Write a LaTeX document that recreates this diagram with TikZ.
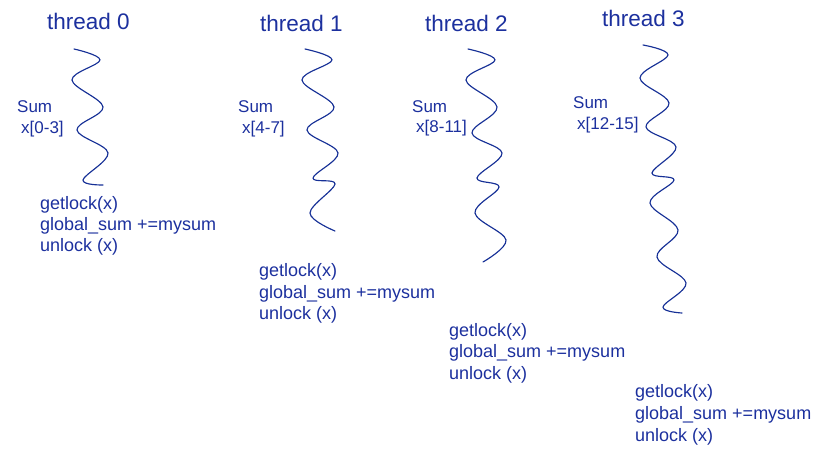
\documentclass[tikz,border=0pt]{standalone}
\usepackage{fontspec}
\setmainfont{Liberation Sans}
\definecolor{txtblue}{RGB}{28,48,158}
\definecolor{wavblue}{RGB}{22,48,150}
\tikzset{
  title/.style={anchor=base west, inner sep=0pt, text=txtblue, font=\fontsize{22.5}{26}\selectfont},
  sumlbl/.style={anchor=base west, inner sep=0pt, text=txtblue, font=\fontsize{17}{20}\selectfont},
  code/.style={anchor=base west, inner sep=0pt, text=txtblue, font=\fontsize{18}{21}\selectfont},
  wave/.style={draw=wavblue, line width=1.15pt, line cap=round, line join=round}
}
\begin{document}
\begin{tikzpicture}[x=1pt,y=-1pt]
\useasboundingbox (0,0) rectangle (817,454);
% titles
\node[title] (t0) at (47,30) {thread 0};
\node[title] (t1) at (260,32) {thread 1};
\node[title] (t2) at (425,32) {thread 2};
\node[title] (t3) at (602,27) {thread 3};
% waves
\draw[wave] plot[smooth, tension=0.6] coordinates {(74,49) (100,60) (72,80) (103,107) (77,130) (108,153) (83,180) (103,185)};
\draw[wave] plot[smooth, tension=0.6] coordinates {(305,49) (332,60) (302,80) (334,107) (307,130) (338,153) (313,178) (335,184) (310,213) (335,231)};
\draw[wave] plot[smooth, tension=0.6] coordinates {(468,49) (495,60) (466,80) (497,107) (472,133) (502,153) (477,178) (499,187) (475,213) (506,240) (483,262)};
\draw[wave] plot[smooth, tension=0.6] coordinates {(643,45) (668,55) (640,78) (669,103) (646,127) (676,147) (652,173) (674,180) (650,203) (678,230) (657,257) (686,283) (663,307) (682,313)};
% sum labels
\node[sumlbl] (s0) at (17,113) {Sum};
\node[sumlbl] (x0) at (21,134) {x[0-3]};
\node[sumlbl] (s1) at (238,113) {Sum};
\node[sumlbl] (x1) at (242,134) {x[4-7]};
\node[sumlbl] (s2) at (412,113) {Sum};
\node[sumlbl] (x2) at (416,133) {x[8-11]};
\node[sumlbl] (s3) at (573,109) {Sum};
\node[sumlbl] (x3) at (577,130) {x[12-15]};
% code blocks
\node[code] (g0) at (40,210) {getlock(x)};
\node[code] (m0) at (40,231) {global\_sum +=mysum};
\node[code] (u0) at (40,252) {unlock (x)};
\node[code] (g1) at (259,277) {getlock(x)};
\node[code] (m1) at (259,299) {global\_sum +=mysum};
\node[code] (u1) at (259,320) {unlock (x)};
\node[code] (g2) at (449,337) {getlock(x)};
\node[code] (m2) at (449,358) {global\_sum +=mysum};
\node[code] (u2) at (449,380) {unlock (x)};
\node[code] (g3) at (635,397) {getlock(x)};
\node[code] (m3) at (635,419) {global\_sum +=mysum};
\node[code] (u3) at (635,441) {unlock (x)};
\end{tikzpicture}
\end{document}
